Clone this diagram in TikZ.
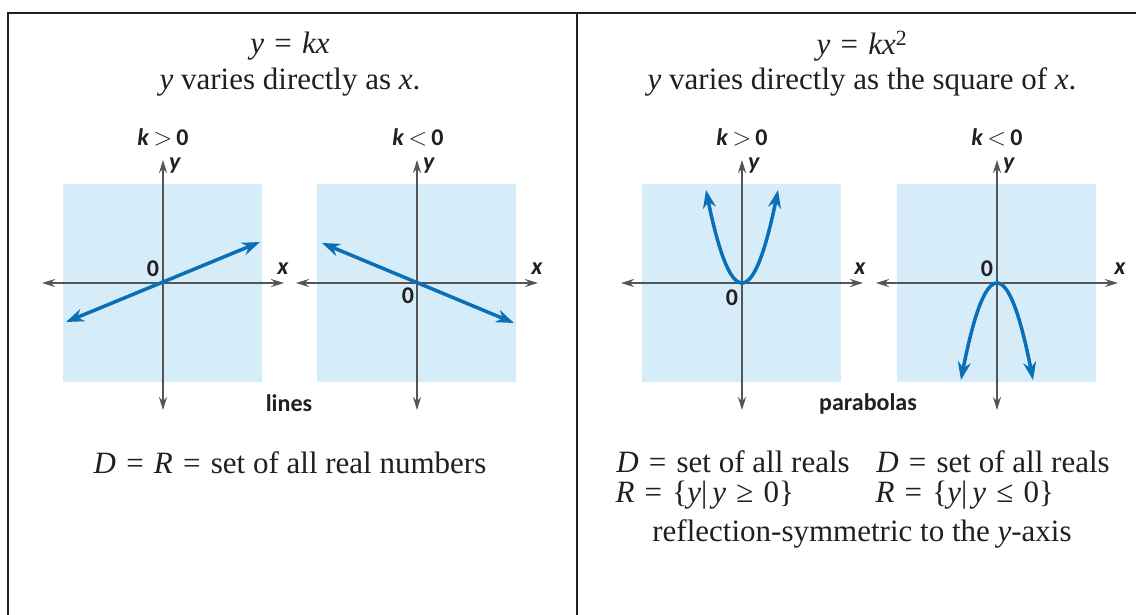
\documentclass[tikz,border=0pt]{standalone}
\usepackage{fontspec}
\setmainfont{Liberation Serif}
\setsansfont{Carlito}
\usetikzlibrary{arrows.meta}
\definecolor{sky}{HTML}{D6ECF9}
\definecolor{curveblue}{HTML}{0A6FB7}
\definecolor{axisgray}{HTML}{555555}
\definecolor{ink}{HTML}{231F20}
\newcommand{\eqs}{\hspace{0.33em}=\hspace{0.33em}}

\begin{document}
\begin{tikzpicture}[
  x=1pt, y=-1pt,
  serif/.style={font=\fontsize{31}{35}\selectfont, text=ink},
  tag/.style={font=\sffamily\bfseries\fontsize{24}{28}\selectfont, text=ink},
  pane/.style={fill=sky, draw=none},
  frame/.style={line width=1.3pt, color=ink},
  axis/.style={line width=2pt, color=axisgray, {Stealth[length=13pt,width=8pt]}-{Stealth[length=13pt,width=8pt]}},
  curve/.style={line width=3.5pt, color=curveblue, {Stealth[length=18pt,width=13pt]}-{Stealth[length=18pt,width=13pt]}}
]
\useasboundingbox (0,0) rectangle (1136,614);
\fill[white] (0,0) rectangle (1136,614);

% frame
\draw[frame] (8,640) -- (8,13) -- (1160,13);
\draw[frame] (577,13) -- (577,640);

% panes and axes
\foreach \ox/\nm in {163/a, 417/b, 742/c, 997/d} {
  \coordinate (o\nm) at (\ox,283);
  \fill[pane] ({\ox-100},184) rectangle ({\ox+99},382);
  \draw[axis] ({\ox-121},283) -- ({\ox+121},283);
  \draw[axis] (\ox,160) -- (\ox,410);
  \node[tag] (ylab\nm) at ({\ox+12},166) {\textit{y}};
}
\node[tag] (xlaba) at (283,269) {\textit{x}};
\node[tag] (xlabb) at (537,269) {\textit{x}};
\node[tag] (xlabc) at (860,269) {\textit{x}};
\node[tag] (xlabd) at (1120,269) {\textit{x}};
\node[tag] (zeroa) at (153,269) {0};
\node[tag] (zerob) at (408,296) {0};
\node[tag] (zeroc) at (732,298) {0};
\node[tag] (zerod) at (987,269) {0};

% lines
\coordinate (la1) at (66,322);
\coordinate (la2) at (260,242);
\coordinate (lb1) at (322,243);
\coordinate (lb2) at (514,323);
\draw[curve] (la1) -- (la2);
\draw[curve] (lb1) -- (lb2);

% parabolas
\draw[curve] plot[domain=-36:36, samples=41, smooth] ({742+\x},{283-93*(\x/36)^2});
\draw[curve] plot[domain=-36:36, samples=41, smooth] ({997+\x},{283+97*(\x/36)^2});

% left texts
\node[serif] (eqlin) at (290,46) {\textit{y}\eqs\textit{kx}};
\node[serif] (saylin) at (290,82) {\textit{y} varies directly as \textit{x}.};
\node[tag] (kposa) at (163,137) {\textit{k}\,$>$\,0};
\node[tag] (knega) at (418,137) {\textit{k}\,$<$\,0};
\node[tag] (lines) at (289,403) {lines};
\node[serif] (domlin) at (290,463) {\textit{D}\eqs\textit{R}\eqs set of all real numbers};

% right texts
\node[serif] (eqpar) at (862,46) {\textit{y}\eqs\textit{kx}\textsuperscript{2}};
\node[serif] (saypar) at (862,82) {\textit{y} varies directly as the square of \textit{x}.};
\node[tag] (kposc) at (742,137) {\textit{k}\,$>$\,0};
\node[tag] (knegd) at (997,137) {\textit{k}\,$<$\,0};
\node[tag] (parab) at (868,404) {parabolas};
\node[serif] (domc) at (733,462) {\textit{D}\eqs set of all reals};
\node[serif] (domd) at (993,462) {\textit{D}\eqs set of all reals};
\node[serif, anchor=west] (rngc) at (612,495) {\textit{R}\eqs\{\textit{y}|\,\textit{y}\hspace{0.33em}≥\hspace{0.33em}0\}};
\node[serif, anchor=west] (rngd) at (872,495) {\textit{R}\eqs\{\textit{y}|\,\textit{y}\hspace{0.33em}≤\hspace{0.33em}0\}};
\node[serif] (symm) at (862,534) {reflection-symmetric to the \textit{y}-axis};
\end{tikzpicture}
\end{document}
